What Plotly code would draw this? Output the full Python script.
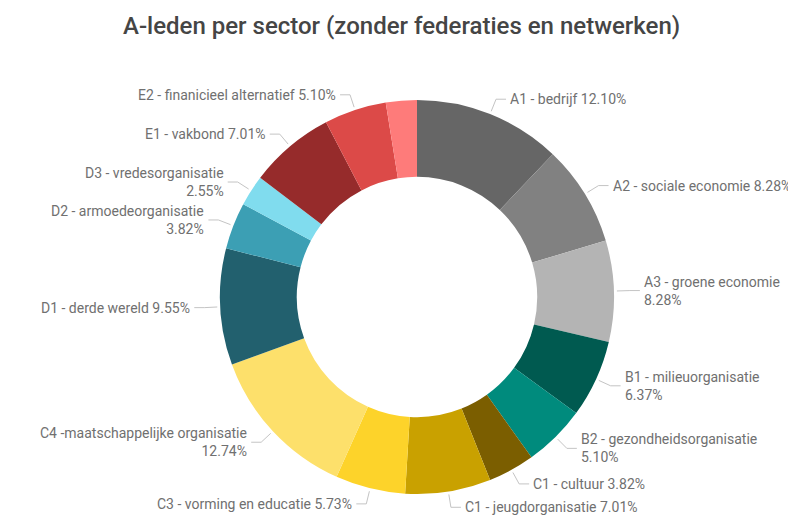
import math
import plotly.graph_objects as go

# ---- data ----
categories = [
    "A1 - bedrijf", "A2 - sociale economie", "A3 - groene economie",
    "B1 - milieuorganisatie", "B2 - gezondheidsorganisatie",
    "C1 - cultuur", "C1 - jeugdorganisatie", "C3 - vorming en educatie",
    "C4 -maatschappelijke organisatie", "D1 - derde wereld",
    "D2 - armoedeorganisatie", "D3 - vredesorganisatie",
    "E1 - vakbond", "E2 - finanicieel alternatief", "overig",
]
values = [12.10, 8.28, 8.28, 6.37, 5.10, 3.82, 7.01, 5.73, 12.74, 9.55, 3.82, 2.55, 7.01, 5.10, 2.54]
label_texts = [
    "A1 - bedrijf 12.10%",
    "A2 - sociale economie 8.28%",
    "A3 - groene economie<br>8.28%",
    "B1 - milieuorganisatie<br>6.37%",
    "B2 - gezondheidsorganisatie<br>5.10%",
    "C1 - cultuur 3.82%",
    "C1 - jeugdorganisatie 7.01%",
    "C3 - vorming en educatie 5.73%",
    "C4 -maatschappelijke organisatie<br>12.74%",
    "D1 - derde wereld 9.55%",
    "D2 - armoedeorganisatie<br>3.82%",
    "D3 - vredesorganisatie<br>2.55%",
    "E1 - vakbond 7.01%",
    "E2 - finanicieel alternatief 5.10%",
    "",
]
colors = [
    "#666666", "#818181", "#b4b4b4",
    "#005a50", "#008b7d",
    "#7b5e00", "#c9a100", "#fdd32a", "#fde06b",
    "#22606e", "#3c9fb4", "#80dcee",
    "#962b2b", "#dc4a48", "#fe7b7a",
]

# ---- layout geometry (window pixels) ----
W, H = 796, 525
OFF = 8  # page body margin
cx, cy, R = 417, 297, 197
hole = 0.61


def px(x):
    return (x - OFF) / W


def py(y):
    return 1 - (y - OFF) / H


fig = go.Figure(go.Pie(
    labels=categories,
    values=values,
    marker=dict(colors=colors, line=dict(width=0)),
    hole=hole,
    sort=False,
    direction="clockwise",
    rotation=0,
    textinfo="none",
    hoverinfo="label+percent",
    domain=dict(x=[px(cx - R), px(cx + R)], y=[py(cy + R), py(cy - R)]),
    showlegend=False,
))

total = sum(values)
cum = 0.0
shapes = [dict(type="rect", xref="paper", yref="paper", x0=0, x1=1,
               y0=py(7), y1=1, fillcolor="#f3f3f3", line=dict(width=0), layer="below")]
annotations = []
for v, txt in zip(values, label_texts):
    mid = (cum + v / 2) / total * 2 * math.pi
    cum += v
    if not txt:
        continue
    s, c = math.sin(mid), math.cos(mid)
    x0, y0 = cx + (R + 3) * s, cy - (R + 3) * c
    x1, y1 = cx + (R + 16) * s, cy - (R + 16) * c
    side = 1 if s >= 0 else -1
    x2 = x1 + side * 10
    shapes.append(dict(
        type="path", xref="paper", yref="paper",
        path=f"M {px(x0)} {py(y0)} L {px(x1)} {py(y1)} L {px(x2)} {py(y1)}",
        line=dict(color="#c4c4c4", width=1),
    ))
    annotations.append(dict(
        x=px(x2 + side * 2), y=py(y1), xref="paper", yref="paper",
        text=txt, showarrow=False,
        xanchor="left" if side > 0 else "right", yanchor="middle",
        align="left" if side > 0 else "right",
        font=dict(family="Roboto", size=14, color="#707070"),
    ))

annotations.append(dict(
    x=px(401), y=py(26), xref="paper", yref="paper",
    text="A-leden per sector (zonder federaties en netwerken)",
    showarrow=False, xanchor="center", yanchor="middle",
    font=dict(family="Roboto", size=24, color="#454545", weight=500),
))

fig.update_layout(
    width=W, height=H,
    margin=dict(l=0, r=0, t=0, b=0),
    paper_bgcolor="white",
    plot_bgcolor="white",
    shapes=shapes,
    annotations=annotations,
)

fig.write_html("out.html")
